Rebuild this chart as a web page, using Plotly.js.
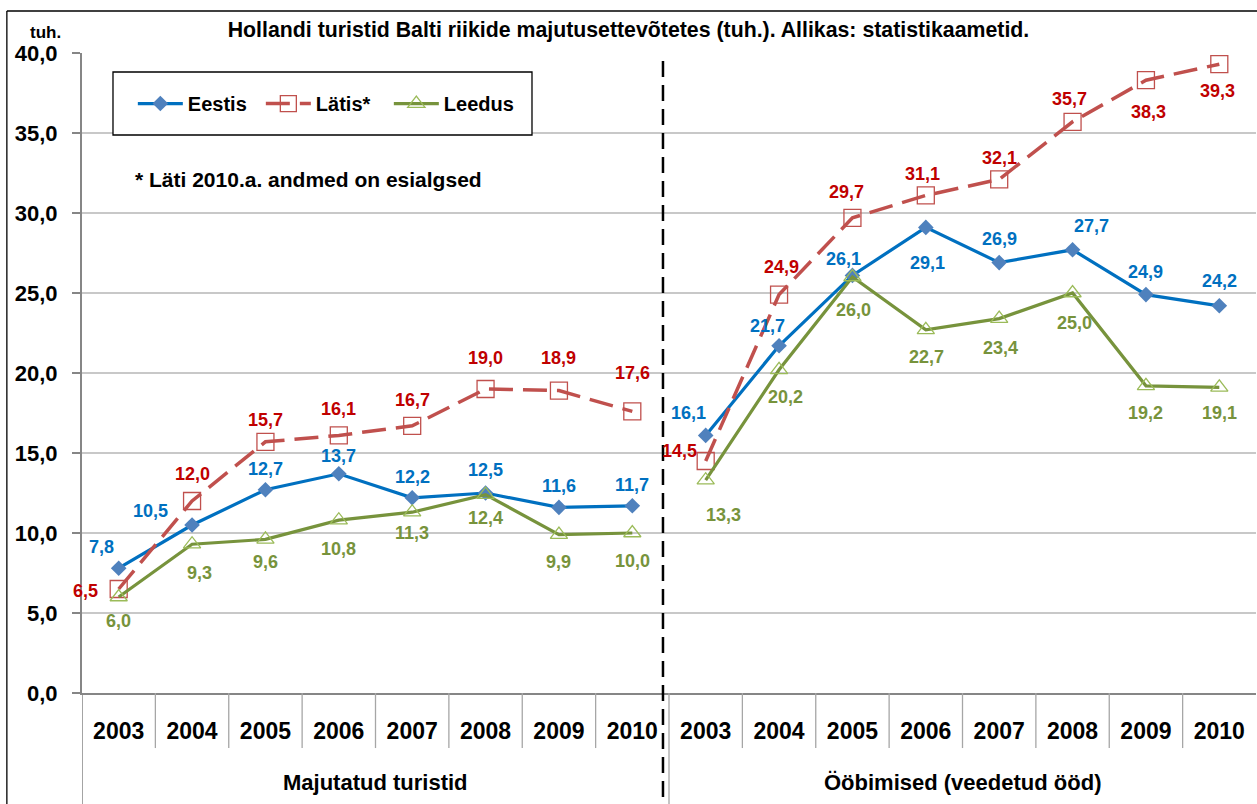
<!DOCTYPE html>
<html>
<head>
<meta charset="utf-8">
<script src="https://cdn.plot.ly/plotly-3.0.1.min.js"></script>
<style>html,body{margin:0;padding:0;background:#fff;}#chart{width:1257px;height:804px;}</style>
</head>
<body>
<div id="chart"></div>
<script>
var years = ['2003','2004','2005','2006','2007','2008','2009','2010'];
var groups = ['Majutatud turistid', 'Ööbimised (veedetud ööd)'];
var seriesNames = ['Eestis', 'Lätis*', 'Leedus'];
var eestisTourists = [7.8, 10.5, 12.7, 13.7, 12.2, 12.5, 11.6, 11.7];
var eestisNights   = [16.1, 21.7, 26.1, 29.1, 26.9, 27.7, 24.9, 24.2];
var latisTourists  = [6.5, 12.0, 15.7, 16.1, 16.7, 19.0, 18.9, 17.6];
var latisNights    = [14.5, 24.9, 29.7, 31.1, 32.1, 35.7, 38.3, 39.3];
var leedusTourists = [6.0, 9.3, 9.6, 10.8, 11.3, 12.4, 9.9, 10.0];
var leedusNights   = [13.3, 20.2, 26.0, 22.7, 23.4, 25.0, 19.2, 19.1];
var yTicks = [0, 5, 10, 15, 20, 25, 30, 35, 40];

// label offsets in pixels (style only): [dx, dy] with dy positive = down
var offE = [[-17,-21],[-42,-14],[0,-21],[0,-18],[0,-21],[0,-23],[0,-21],[0,-21],
            [-17,-22],[-12,-20],[-9,-16],[2,36],[0,-24],[19,-24],[0,-23],[0,-25]];
var offL = [[-33,2],[0,-27],[0,-22],[0,-26],[0,-26],[0,-31],[0,-33],[0,-38],
            [-26,-10],[2,-28],[-6,-26],[-3,-21],[0,-21],[-3,-23],[3,32],[-2,27]];
var offLd = [[0,24],[7,29],[0,23],[0,29],[0,21],[0,23],[0,27],[0,28],
             [18,35],[6,27],[1,33],[1,27],[1,29],[2,30],[0,27],[0,26]];

var FONT = 'Liberation Sans, Arial, sans-serif';
var n = years.length;
var xs = [];
for (var i = 0; i < n; i++) xs.push(i);
xs.push(null);
for (var i = 0; i < n; i++) xs.push(n + i);
function join(a, b) { return a.concat([null]).concat(b); }
function fmt(v) { return v.toFixed(1).replace('.', ','); }

function mk(name, ya, yb, lineStyle, marker) {
  return {
    type: 'scatter', mode: 'lines+markers', name: name,
    x: xs, y: join(ya, yb), connectgaps: false,
    line: lineStyle, marker: marker, cliponaxis: false
  };
}

var data = [
  mk(seriesNames[0], eestisTourists, eestisNights,
     {color: '#0070C0', width: 3.2},
     {symbol: 'diamond', size: 12, color: '#4F81BD'}),
  mk(seriesNames[1], latisTourists, latisNights,
     {color: '#C0504D', width: 3.5, dash: '24px,10px'},
     {symbol: 'square-open', size: 17, color: '#C0504D', line: {width: 1.3, color: '#C0504D'}}),
  mk(seriesNames[2], leedusTourists, leedusNights,
     {color: '#77933C', width: 3.2},
     {symbol: 'triangle-up-open', size: 15, color: '#9BBB59', line: {width: 1.3, color: '#9BBB59'}})
];

var annotations = [];
function addLabels(ya, yb, offs, color) {
  var vals = ya.concat(yb);
  for (var i = 0; i < vals.length; i++) {
    annotations.push({xref: 'x', yref: 'y', x: i, y: vals[i], text: fmt(vals[i]), showarrow: false,
      xanchor: 'center', yanchor: 'middle', xshift: offs[i][0], yshift: -offs[i][1],
      font: {family: FONT, size: 18, color: color, weight: 'bold'}});
  }
}
addLabels(eestisTourists, eestisNights, offE, '#0070C0');
addLabels(latisTourists, latisNights, offL, '#C00000');
addLabels(leedusTourists, leedusNights, offLd, '#77933C');

var tickVals = [], tickText = [];
for (var i = 0; i < 2 * n; i++) { tickVals.push(i); tickText.push(years[i % n]); }

var shapes = [];
for (var k = 0; k < 2 * n - 1; k++) {
  var xv = k + 0.5;
  var isGroup = (k === n - 1);
  shapes.push({type: 'line', xref: 'x', yref: 'paper', x0: xv, x1: xv, y0: 0, y1: isGroup ? -0.2 : -0.086,
               line: {color: '#A6A6A6', width: 1.3}});
}
shapes.push({type: 'line', xref: 'x', yref: 'paper', x0: -0.5, x1: -0.5, y0: 0, y1: -0.2, line: {color: '#868686', width: 1.5}});
shapes.push({type: 'line', xref: 'x', yref: 'paper', x0: n - 0.5 - 0.082, x1: n - 0.5 - 0.082, y0: -0.2, y1: 1,
             line: {color: '#000000', width: 2.5, dash: '16px,8px'}});
shapes.push({type: 'line', xref: 'paper', yref: 'paper', x0: -0.064, x1: -0.064, y0: -0.2, y1: 1.0656, line: {color: '#000', width: 1.3}});
shapes.push({type: 'line', xref: 'paper', yref: 'paper', x0: -0.064, x1: 1.01, y0: 1.0656, y1: 1.0656, line: {color: '#000', width: 1.3}});
// legend frame
shapes.push({type: 'rect', xref: 'paper', yref: 'paper', x0: 0.0264, x1: 0.3833, y0: 0.8719, y1: 0.9703,
             line: {color: '#000', width: 1.3}, fillcolor: '#fff', layer: 'above'});

annotations.push(
  {text: 'tuh.', xref: 'paper', yref: 'paper', x: -0.0315, y: 1.0328, xanchor: 'center', yanchor: 'middle', showarrow: false,
   font: {family: FONT, size: 17, color: '#000', weight: 'bold'}},
  {text: '* Läti 2010.a. andmed on esialgsed', xref: 'paper', yref: 'paper', x: 0.0434, y: 0.8016,
   xanchor: 'left', yanchor: 'middle', showarrow: false, font: {family: FONT, size: 21, color: '#000', weight: 'bold'}},
  {text: groups[0], xref: 'x', yref: 'paper', x: (n - 1) / 2, y: -0.1406, xanchor: 'center', yanchor: 'middle', showarrow: false,
   font: {family: FONT, size: 22, color: '#000', weight: 'bold'}},
  {text: groups[1], xref: 'x', yref: 'paper', x: n + (n - 1) / 2, y: -0.1406, xanchor: 'center', yanchor: 'middle', showarrow: false,
   font: {family: FONT, size: 22, color: '#000', weight: 'bold'}}
);

var layout = {
  width: 1257, height: 804,
  margin: {l: 82, r: 1, t: 53, b: 111},
  paper_bgcolor: '#fff', plot_bgcolor: '#fff',
  separators: ', ',
  title: {text: 'Hollandi turistid Balti riikide majutusettevõtetes (tuh.). Allikas: statistikaametid.',
          x: 0.5, xref: 'container', y: 1 - 30 / 804, yref: 'container', yanchor: 'middle',
          font: {family: FONT, size: 21.3, color: '#000', weight: 'bold'}},
  xaxis: {range: [-0.5, 2 * n - 0.5], tickvals: tickVals, ticktext: tickText, showgrid: false, zeroline: false,
          showline: true, linecolor: '#868686', linewidth: 2, ticks: '', ticklabelstandoff: 16,
          tickfont: {family: FONT, size: 23, color: '#000', weight: 'bold'}, fixedrange: true},
  yaxis: {range: [0, 40], tickvals: yTicks, tickformat: '.1f', showgrid: true, gridcolor: '#C8C8C8', gridwidth: 1.3,
          zeroline: false, showline: true, linecolor: '#868686', linewidth: 2, ticks: 'outside', ticklen: 8,
          tickcolor: '#868686', tickwidth: 1.5, ticklabelstandoff: 10,
          tickfont: {family: FONT, size: 22, color: '#000', weight: 'bold'}, fixedrange: true},
  legend: {orientation: 'h', x: 0.0433, y: 0.921, xanchor: 'left', yanchor: 'middle',
           borderwidth: 0, bgcolor: 'rgba(0,0,0,0)', entrywidth: 68, entrywidthmode: 'pixels', itemwidth: 45,
           font: {family: FONT, size: 20, color: '#000', weight: 'bold'}},
  shapes: shapes, annotations: annotations, showlegend: true
};

Plotly.newPlot('chart', data, layout, {displayModeBar: false, staticPlot: true});
</script>
</body>
</html>
